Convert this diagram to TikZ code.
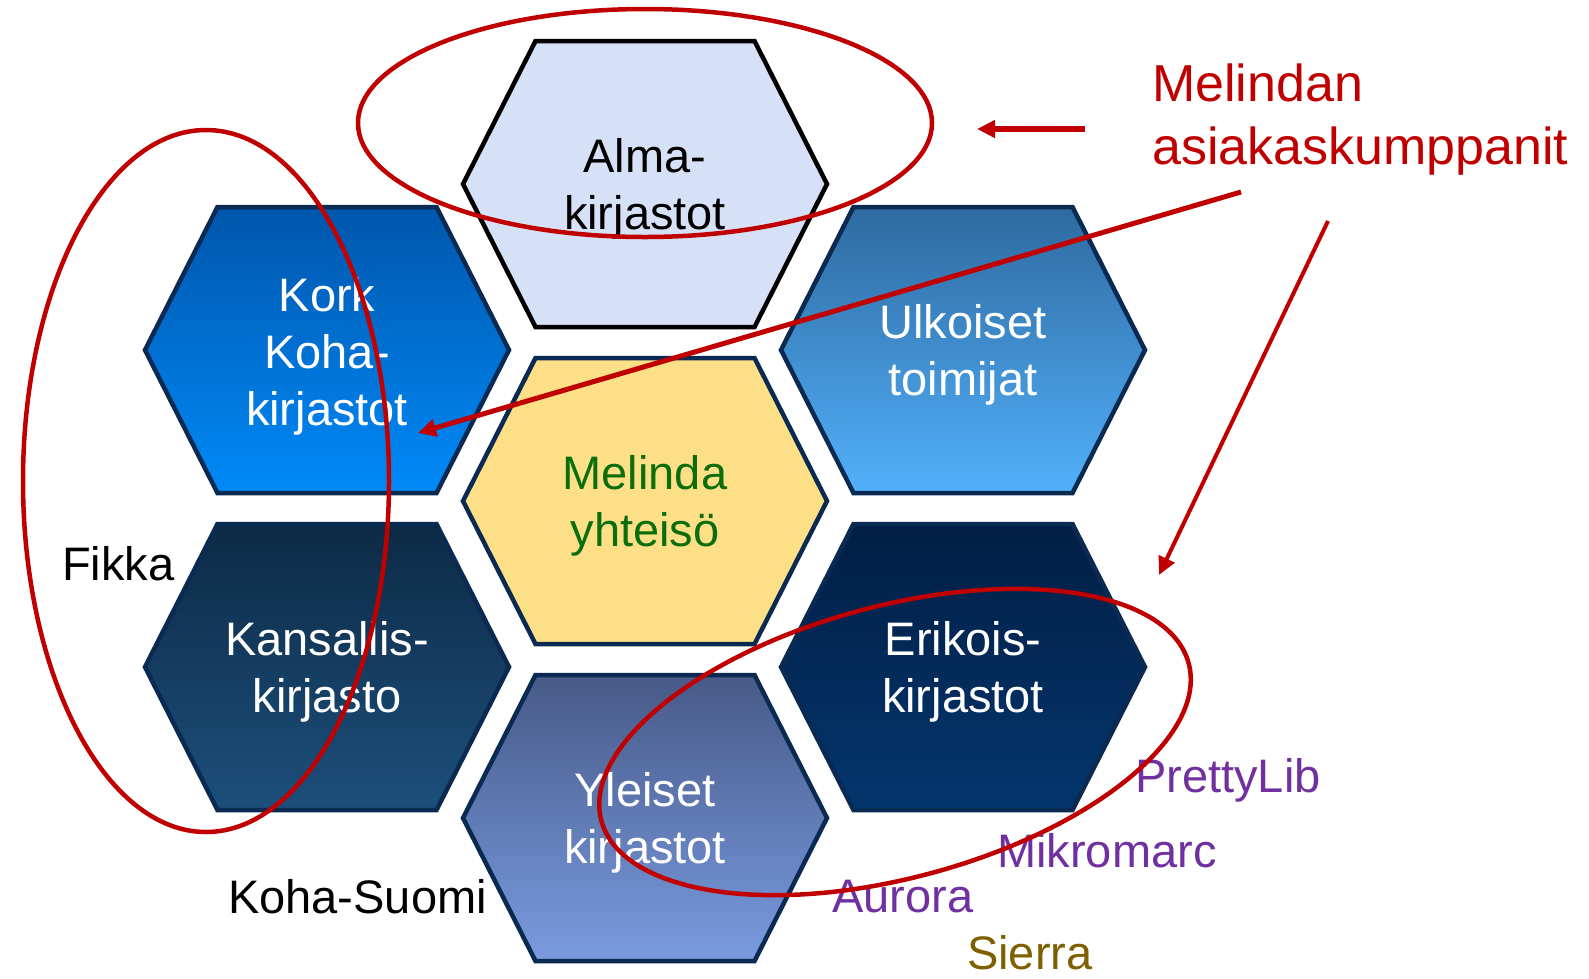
\documentclass[tikz,border=0pt]{standalone}
\usepackage{fontspec}
\setmainfont{Liberation Sans}
\usetikzlibrary{arrows.meta,calc}
\definecolor{hexedge}{HTML}{0B2A52}
\definecolor{almafill}{HTML}{D6E0F6}
\definecolor{melfill}{HTML}{FDDF88}
\definecolor{melgreen}{HTML}{0B6E0B}
\definecolor{korktop}{HTML}{0056AC}
\definecolor{korkbot}{HTML}{008AF8}
\definecolor{ulktop}{HTML}{2E6AA0}
\definecolor{ulkbot}{HTML}{52B0FA}
\definecolor{kantop}{HTML}{0D2A45}
\definecolor{kanbot}{HTML}{1C4F7C}
\definecolor{eritop}{HTML}{021E45}
\definecolor{eribot}{HTML}{03366D}
\definecolor{yletop}{HTML}{475A88}
\definecolor{ylebot}{HTML}{7A9BE0}
\definecolor{accent}{HTML}{C00000}
\definecolor{purp}{HTML}{7030A0}
\definecolor{olive}{HTML}{7F6000}
\newcommand\hexat[3]{%
  \path[#3] (#1-182,#2) -- (#1-109.5,#2-143) -- (#1+109.5,#2-143) -- (#1+182,#2)
    -- (#1+109.5,#2+143) -- (#1-109.5,#2+143) -- cycle;}
\begin{document}
\begin{tikzpicture}[x=1pt,y=-1pt,
  hexnavy/.style={draw=hexedge, line width=4.5pt, line join=miter},
  hexlabel/.style={inner sep=0pt, align=center, text=white,
    font=\fontsize{47}{57}\selectfont},
  redline/.style={draw=accent, line width=4.5pt},
  redarrow/.style={draw=accent, -{Triangle[length=18pt,width=17pt]}},
  sidelabel/.style={inner sep=0pt, anchor=base west, font=\fontsize{47}{56}\selectfont}]
\useasboundingbox (0,0) rectangle (1589,978);
\fill[white] (0,0) rectangle (1589,978);
% hexagons
\hexat{645}{184}{fill=almafill, draw=black, line width=4.5pt, line join=miter}
\hexat{327}{350}{hexnavy, top color=korktop, bottom color=korkbot}
\hexat{963}{350}{hexnavy, top color=ulktop, bottom color=ulkbot}
\hexat{645}{501}{hexnavy, fill=melfill}
\hexat{327}{667}{hexnavy, top color=kantop, bottom color=kanbot}
\hexat{963}{667}{hexnavy, top color=eritop, bottom color=eribot}
\hexat{645}{818}{hexnavy, top color=yletop, bottom color=ylebot}
% hexagon labels
\node[hexlabel, text=black] (alma) at (645,189) {Alma-\\kirjastot};
\node[hexlabel] (kork) at (327,356) {Kork\\Koha-\\kirjastot};
\node[hexlabel] (ulk) at (963,355) {Ulkoiset\\toimijat};
\node[hexlabel, text=melgreen] (mel) at (645,506) {Melinda\\yhteisö};
\node[hexlabel] (kan) at (327,672) {Kansallis-\\kirjasto};
\node[hexlabel] (eri) at (963,672) {Erikois-\\kirjastot};
\node[hexlabel] (yle) at (645,823) {Yleiset\\kirjastot};
% side labels
\node[sidelabel] (fikka) at (62,580) {Fikka};
\node[sidelabel] (kohas) at (228,913) {Koha-Suomi};
\node[sidelabel, text=purp] (pretty) at (1135,792) {PrettyLib};
\node[sidelabel, text=purp] (mikro) at (997,867) {Mikromarc};
\node[sidelabel, text=purp] (aurora) at (832,912) {Aurora};
\node[sidelabel, text=olive] (sierra) at (967,969) {Sierra};
% red label
\node[inner sep=0pt, anchor=north west, align=left, text=accent,
  font=\fontsize{52}{63}\selectfont] (partners) at (1152,64) {Melindan\\asiakaskumppanit};
% ellipses
\draw[redline] (645,123) ellipse [x radius=287, y radius=114];
\draw[redline] (206,481) ellipse [x radius=183, y radius=351];
\draw[redline, rotate around={15:(895,742)}] (895,742) ellipse [x radius=304, y radius=136];
% arrows
\coordinate (a1s) at (1085,129);
\coordinate (a1e) at (977,129);
\coordinate (a2s) at (1241,192);
\coordinate (a2e) at (418,433);
\coordinate (a3s) at (1328,221);
\coordinate (a3e) at (1159,575);
\draw[redarrow, line width=6pt] (a1s) -- (a1e);
\draw[redarrow, line width=5pt] (a2s) -- (a2e);
\draw[redarrow, line width=4pt] (a3s) -- (a3e);
\end{tikzpicture}
\end{document}
